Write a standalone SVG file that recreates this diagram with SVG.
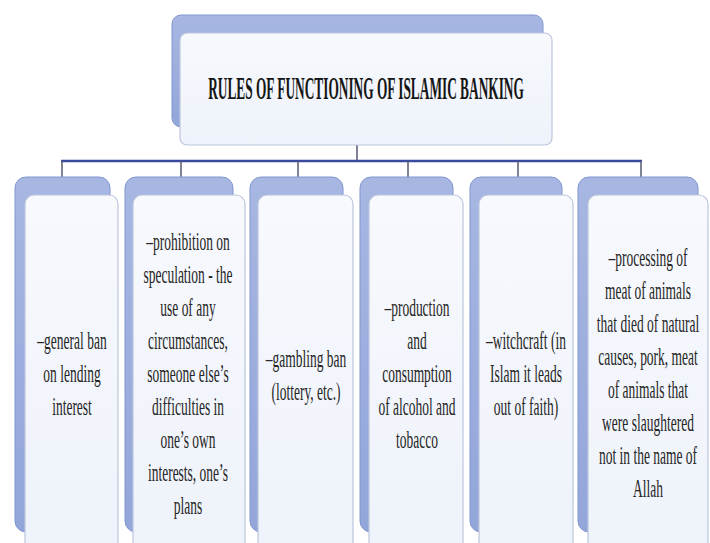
<svg xmlns="http://www.w3.org/2000/svg" width="710" height="543" viewBox="0 0 710 543">
<defs>
<linearGradient id="backG" x1="0" y1="0" x2="0" y2="1">
<stop offset="0" stop-color="#a7b7e2"/>
<stop offset="1" stop-color="#93a6da"/>
</linearGradient>
<linearGradient id="frontG" x1="0" y1="0" x2="0" y2="1">
<stop offset="0" stop-color="#f7f9fd"/>
<stop offset="1" stop-color="#eef2fa"/>
</linearGradient>
<style>
.back{fill:url(#backG);stroke:#8196d0;stroke-width:1}
.front{fill:url(#frontG);stroke:#bcc5dd;stroke-width:1.2}
.t{font-family:"Liberation Serif","Times New Roman",serif;font-size:25px;fill:#262626;text-anchor:middle}
.title{font-family:"Liberation Serif","Times New Roman",serif;font-size:31px;font-weight:bold;fill:#151515;text-anchor:middle}
.bus{stroke:#3a4a9e;stroke-width:2.5;fill:none}
.drop{stroke:#555b70;stroke-width:1.5;fill:none}
</style>
</defs>
<rect width="710" height="543" fill="#ffffff"/>

<g id="connectors">
<line class="drop" x1="357" y1="145" x2="357" y2="161"/>
<line class="bus" x1="61" y1="161" x2="642" y2="161"/>
<line class="drop" x1="62" y1="161" x2="62" y2="177"/>
<line class="drop" x1="181" y1="161" x2="181" y2="177"/>
<line class="drop" x1="298" y1="161" x2="298" y2="177"/>
<line class="drop" x1="408" y1="161" x2="408" y2="177"/>
<line class="drop" x1="518" y1="161" x2="518" y2="177"/>
<line class="drop" x1="641" y1="161" x2="641" y2="177"/>
</g>

<g id="root">
<rect class="back" x="172" y="15" width="371" height="112" rx="9"/>
<rect class="front" x="180" y="33" width="372" height="112" rx="7"/>
<g transform="translate(366 0) scale(0.43 1)">
<text class="title" x="0" y="99">RULES OF FUNCTIONING OF ISLAMIC BANKING</text>
</g>
</g>

<g id="node1">
<rect class="back" x="15" y="177" width="95" height="355" rx="11"/>
<rect class="front" x="25" y="195" width="93" height="360" rx="9"/>
<g transform="translate(72 0) scale(0.54 1)">
<text class="t" x="0" y="349">–general ban</text>
<text class="t" x="0" y="382">on lending</text>
<text class="t" x="0" y="415">interest</text>
</g>
</g>

<g id="node2">
<rect class="back" x="125" y="177" width="108" height="355" rx="11"/>
<rect class="front" x="133" y="195" width="112" height="360" rx="9"/>
<g transform="translate(188 0) scale(0.54 1)">
<text class="t" x="0" y="250">–prohibition on</text>
<text class="t" x="0" y="283">speculation - the</text>
<text class="t" x="0" y="316">use of any</text>
<text class="t" x="0" y="349">circumstances,</text>
<text class="t" x="0" y="382">someone else’s</text>
<text class="t" x="0" y="415">difficulties in</text>
<text class="t" x="0" y="448">one’s own</text>
<text class="t" x="0" y="481">interests, one’s</text>
<text class="t" x="0" y="514">plans</text>
</g>
</g>

<g id="node3">
<rect class="back" x="250" y="177" width="93" height="355" rx="11"/>
<rect class="front" x="258" y="195" width="95" height="360" rx="9"/>
<g transform="translate(306 0) scale(0.54 1)">
<text class="t" x="0" y="367">–gambling ban</text>
<text class="t" x="0" y="400">(lottery, etc.)</text>
</g>
</g>

<g id="node4">
<rect class="back" x="360" y="177" width="93" height="355" rx="11"/>
<rect class="front" x="369" y="195" width="94" height="360" rx="9"/>
<g transform="translate(417 0) scale(0.54 1)">
<text class="t" x="0" y="316">–production</text>
<text class="t" x="0" y="349">and</text>
<text class="t" x="0" y="382">consumption</text>
<text class="t" x="0" y="415">of alcohol and</text>
<text class="t" x="0" y="448">tobacco</text>
</g>
</g>

<g id="node5">
<rect class="back" x="470" y="177" width="92" height="355" rx="11"/>
<rect class="front" x="479" y="195" width="94" height="360" rx="9"/>
<g transform="translate(526 0) scale(0.54 1)">
<text class="t" x="0" y="349">–witchcraft (in</text>
<text class="t" x="0" y="382">Islam it leads</text>
<text class="t" x="0" y="415">out of faith)</text>
</g>
</g>

<g id="node6">
<rect class="back" x="578" y="177" width="120" height="355" rx="11"/>
<rect class="front" x="588" y="195" width="120" height="360" rx="9"/>
<g transform="translate(648 0) scale(0.54 1)">
<text class="t" x="0" y="266">–processing of</text>
<text class="t" x="0" y="299">meat of animals</text>
<text class="t" x="0" y="332">that died of natural</text>
<text class="t" x="0" y="365">causes, pork, meat</text>
<text class="t" x="0" y="398">of animals that</text>
<text class="t" x="0" y="431">were slaughtered</text>
<text class="t" x="0" y="464">not in the name of</text>
<text class="t" x="0" y="497">Allah</text>
</g>
</g>
</svg>
